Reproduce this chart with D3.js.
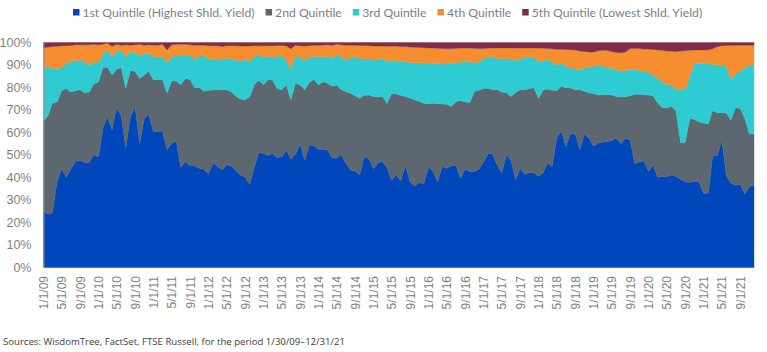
<!DOCTYPE html>
<html lang='en'>
    <head>
        <title>Quintile share, stacked</title>
        <script src="https://d3js.org/d3.v7.min.js"></script>
        <style>
            body { margin:0; background:white; }
            svg { display:block; font-family: Lato, "Open Sans", sans-serif; }
            .tick text { fill:#7f7f7f; }
        </style>
    </head>
    <body>
        <svg id="chart" width="767" height="352"></svg>
    </body>

    <script>
        // series names + colours
        const names = ["1st Quintile (Highest Shld. Yield)", "2nd Quintile", "3rd Quintile", "4th Quintile", "5th Quintile (Lowest Shld. Yield)"];
        const colors = ["#0047bb", "#5d6770", "#2ecbd2", "#f68d2e", "#7e2d4c"];

        // monthly categories: 1/30/09 .. 12/31/21 (shown at the start of each month)
        const firstMonth = "2009-01-01", lastMonth = "2021-12-01";

        // x tick labels (every 4 months)
        const tickLabels = [
            "1/1/09","5/1/09","9/1/09","1/1/10","5/1/10","9/1/10","1/1/11","5/1/11","9/1/11",
            "1/1/12","5/1/12","9/1/12","1/1/13","5/1/13","9/1/13","1/1/14","5/1/14","9/1/14",
            "1/1/15","5/1/15","9/1/15","1/1/16","5/1/16","9/1/16","1/1/17","5/1/17","9/1/17",
            "1/1/18","5/1/18","9/1/18","1/1/19","5/1/19","9/1/19","1/1/20","5/1/20","9/1/20",
            "1/1/21","5/1/21","9/1/21"
        ];

        // share of each quintile, % (one value per month)
        const q1 = [25,23.5,24,38,44,40,43.5,47,47.5,46.5,46.5,50,49,62,67,61,71,67.5,53,67,71.5,55,66,68,60.3,60.3,60.7,52.2,55,56,
            44.3,47,45,45,44,43.5,41.5,46.3,44.8,43.3,45.5,45,43,41,40,36.7,44.5,51,50.6,49.7,50.4,48.8,49,52.2,48,50.2,54.8,47.5,54.3,54.1,
            52.5,52.4,52.1,48.5,48.4,50,46.3,43.2,42.8,41.1,49.2,48.2,43.6,46.6,46.9,44.3,38.6,41.1,38.3,45.5,37.8,36.2,37.5,37.2,44.5,42.7,37.8,44.8,44,45.1,
            45.2,39.6,43.6,42.5,42.5,43.5,47,50.5,50.3,45.5,42,49.8,47.5,39,43.9,41.3,42,42,40.4,42,46.3,44.8,57.5,60.6,53.7,59.3,59.6,52.2,59.2,57.4,
            53.8,55.2,55.6,55.8,56.3,57.5,54.9,57.4,56.5,46,46.9,47.2,42.7,45.5,40,40.3,40.3,41,40.3,39.1,37.9,37.7,38.2,38,32.6,33,49.3,49.6,56.7,40.4,
            37.4,36.4,36.8,32.5,36,36.2];
        const q2 = [40,44,49,35.5,34.5,39.5,34.5,31.5,31.5,31,31.5,31.5,33.5,27,22,24.5,17,21.5,26.5,20.5,15.7,29,19.5,19.2,23.1,23.1,22.9,25.3,27.8,26.8,
            36.9,37,38.5,35,36,34.8,37.2,32.5,34.2,35.7,33.5,33,33.2,33.8,34.5,39.1,36.7,32.2,30.6,33.8,33,30.7,30,28.9,26.6,31.7,26.3,31.4,27.9,29.5,
            28.6,30.2,29.8,32,32.7,29,31.9,34.2,33.5,34.1,27.3,28.4,32.4,29.2,29,28.5,38.8,36,38.2,30.5,37.5,38.2,36.3,35.7,28.2,30.2,35,27.8,28.5,26.4,
            28.5,34.5,29.9,30.8,35.7,35.2,32.6,29,28.7,33.5,35.9,27.8,28.5,38.7,35.1,37.5,37.5,37.7,34.8,36.9,33,33.9,21.1,19.8,26.1,20.4,19.3,26.7,19.1,20.2,
            23.5,21.4,21.1,21,20.3,18.5,20.8,18.4,19.8,30.9,30.1,29.6,33.9,30.8,33.1,30.8,30.5,30.6,29.2,16.3,17.8,28.5,27.5,26.6,31.5,30.7,20.4,19.1,12,28.1,
            28.1,34.6,33.8,33.8,23.2,23.1];
        const q3 = [24,21.5,15.5,14.5,10.5,11,13.5,13.5,13,14.5,11.5,10,8.5,6,8,8,8.2,7.5,14,8.3,8.3,10.3,9.5,7.8,10.2,10.1,10,13.5,11,11.2,
            12.8,10.6,10.5,12.5,14,15.7,14.3,13.8,13.5,13.6,14,14.7,16.1,16.8,18.1,15.5,12.7,11.2,12.2,10.3,10,14.2,15.2,11.1,13.6,12.3,12.1,13.2,11.1,10.3,
            12.5,11.2,11.7,12.7,13.3,14.6,13.8,15.8,17.3,17.6,16.3,15.9,16.2,16.4,17.2,18.5,14.7,14.7,15,15.5,15.8,16.6,17.2,18.1,18.2,17.8,17.7,17.8,18,19.2,
            17.3,17.1,17.9,18.1,12.7,12.6,13.2,14.2,14.2,14,14.9,15.2,16.7,14.3,13.7,14.5,13.9,13.7,16.1,12.9,13.3,12.5,11.5,10.4,9.5,9.2,9.2,9,10.3,11.3,
            12,13.4,12.6,12.1,11.8,11.9,11.7,11.6,11.6,11.1,10.4,10.3,10.2,9.1,10.9,11.5,10.4,9.6,9.5,23.6,23.5,18.6,25.1,26.2,26.6,26.8,20.5,21.4,21.1,20.8,
            18,15.2,16.6,22.5,30.8,30.5];
        const q4 = [8.7,9,9.7,10.3,9.5,8.1,7.2,7,7,7,9.5,7.7,8,4.3,2.7,4.8,3,2.3,5.5,3,3.5,4.9,3.8,4,5.2,5.3,5.6,5.7,5.2,5.2,
            5.2,4.6,5,6.3,4.8,4.8,5.6,6,6.1,5.6,5.6,5.9,6.3,6.8,5.8,7.1,4.7,4.1,5.1,4.8,5.2,5,4.5,6.2,9,4.6,5.4,6.3,5.3,4.9,
            5.2,5.1,5.4,5.6,4.8,5.4,6.8,5.6,5.2,5.9,5.9,6.1,6.2,6.2,5.3,7,6.3,6.6,6.7,6.7,6.9,6.9,6.8,6.7,6.7,6.8,6.9,6.9,6.7,6.5,
            6.4,6.3,6.1,6.1,6.5,6,4.5,3.8,4.4,4.6,4.8,4.8,4.9,5.6,4.8,4.3,4.2,4.1,6.2,5.7,4.7,6,6.9,6.2,7.6,7.9,8.6,8.3,7.4,6.9,
            6.5,6.3,7.3,7.6,7.6,7.6,8,8.4,9.4,9.4,9.9,10,10.3,11.5,12.7,13.9,15,14.9,17,17.2,17.2,11.8,5.9,5.9,6,6.3,7,8.1,8.7,9.4,
            15.3,12.6,11.6,10,8.8,9];
        const q5 = [2.3,2,1.8,1.7,1.5,1.4,1.3,1,1,1,1,0.8,1,0.7,0.3,1.7,0.8,1.2,1,1.2,1,0.8,1.2,1,1.2,1.2,0.8,3.3,1,0.8,
            0.8,0.8,1,1.2,1.2,1.2,1.4,1.4,1.4,1.8,1.4,1.4,1.4,1.6,1.6,1.6,1.4,1.5,1.5,1.4,1.4,1.3,1.3,1.6,2.8,1.2,1.4,1.6,1.4,1.2,
            1.2,1.1,1,1.2,0.8,1,1.2,1.2,1.2,1.3,1.3,1.4,1.6,1.6,1.6,1.7,1.6,1.6,1.8,1.8,2,2.1,2.2,2.3,2.4,2.5,2.6,2.7,2.8,2.8,
            2.6,2.5,2.5,2.5,2.6,2.7,2.7,2.5,2.4,2.4,2.4,2.4,2.4,2.4,2.5,2.4,2.4,2.5,2.5,2.5,2.7,2.8,3,3,3.1,3.2,3.3,3.8,4,4.2,
            4.2,3.7,3.4,3.5,4,4.5,4.6,4.2,2.7,2.6,2.7,2.9,2.9,3.1,3.3,3.5,3.8,3.9,4,3.8,3.6,3.4,3.3,3.3,3.3,3.2,2.8,1.8,1.5,1.3,
            1.2,1.2,1.2,1.2,1.2,1.2];

        const yTicks = [0, 0.1, 0.2, 0.3, 0.4, 0.5, 0.6, 0.7, 0.8, 0.9, 1];

        const svg = d3.select("#chart");
        const margin = {top: 42.5, right: 13, bottom: 85, left: 43.5};
        const W = 767, H = 352;

        const months = d3.timeMonth.range(new Date(firstMonth + "T00:00"), d3.timeMonth.offset(new Date(lastMonth + "T00:00"), 1));
        const series = [q1, q2, q3, q4, q5];
        const table = months.map((m, i) => {
            const row = {date: m};
            names.forEach((n, k) => row[n] = series[k][i]);
            return row;
        });

        const x = d3.scaleTime()
            .domain(d3.extent(months))
            .range([margin.left, W - margin.right]);
        const y = d3.scaleLinear()
            .domain([0, 1])
            .range([H - margin.bottom, margin.top]);

        const stack = d3.stack().keys(names).offset(d3.stackOffsetExpand);
        const layers = stack(table);

        const area = d3.area()
            .x(d => x(d.data.date))
            .y0(d => y(d[0]))
            .y1(d => y(d[1]));

        svg.append("g").selectAll("path")
            .data(layers)
            .join("path")
            .attr("d", area)
            .attr("fill", (d, i) => colors[i])
            .attr("stroke", (d, i) => colors[i])
            .attr("stroke-width", 0.4);

        // y axis
        svg.append("g")
            .attr("transform", `translate(${margin.left},0)`)
            .call(d3.axisLeft(y).tickValues(yTicks).tickFormat(d3.format(".0%")).tickSize(0).tickPadding(12))
            .call(g => g.select(".domain").attr("stroke", "#8a8f96"))
            .selectAll("text").style("font-size", "12.5px");

        // x axis, rotated labels
        const parse = d3.timeParse("%m/%d/%y");
        const xAxis = svg.append("g")
            .attr("transform", `translate(0,${H - margin.bottom})`)
            .call(d3.axisBottom(x).tickValues(tickLabels.map(parse)).tickFormat(d3.timeFormat("%-m/%-d/%y")).tickSize(0));
        xAxis.select(".domain").attr("stroke", "#6f7680");
        xAxis.selectAll("text")
            .style("font-size", "12px")
            .attr("text-anchor", "end")
            .attr("transform", "rotate(-90)")
            .attr("x", -9)
            .attr("y", 0)
            .attr("dy", "0.35em");

        // legend
        const legend = svg.append("g").attr("transform", "translate(73,0)");
        let lx = 0;
        names.forEach((n, i) => {
            const g = legend.append("g").attr("transform", `translate(${lx},0)`);
            g.append("rect").attr("x", 0).attr("y", 9).attr("width", 6.5).attr("height", 6.5).attr("fill", colors[i]);
            const t = g.append("text").attr("x", 9.5).attr("y", 16.5)
                .attr("fill", "#7a7f87").style("font-size", "12.2px").text(n);
            lx += 9.5 + t.node().getComputedTextLength() + 11;
        });

        // source note
        svg.append("text")
            .attr("x", 3).attr("y", 345)
            .attr("fill", "#404040")
            .style("font-size", "9.6px")
            .style("font-family", "'Open Sans', sans-serif")
            .text("Sources: WisdomTree, FactSet, FTSE Russell, for the period 1/30/09\u201312/31/21");
    </script>
</html>
